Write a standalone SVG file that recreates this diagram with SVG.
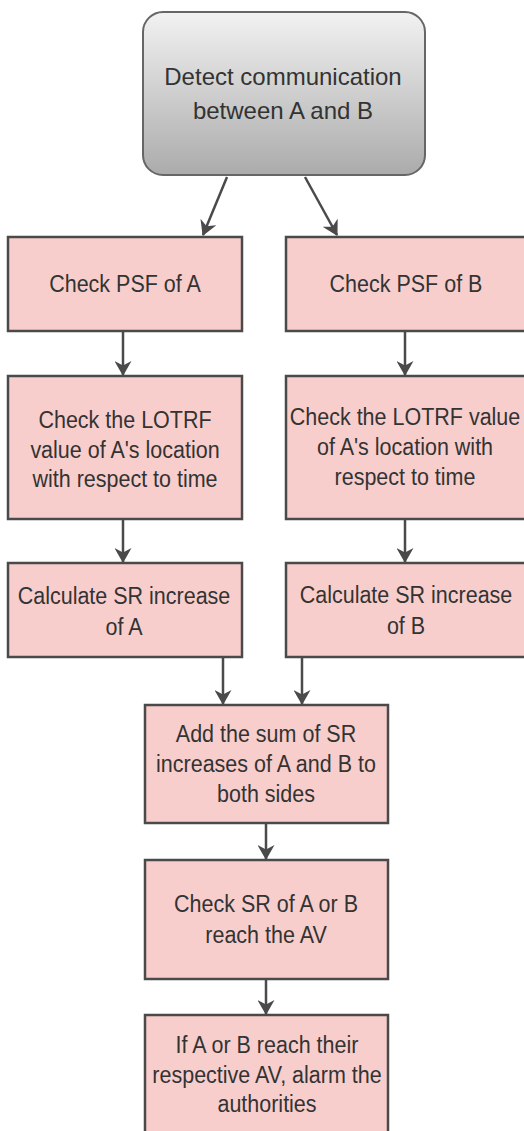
<svg xmlns="http://www.w3.org/2000/svg" width="524" height="1131" viewBox="0 0 524 1131">
<defs>
<linearGradient id="g" x1="0" y1="0" x2="0" y2="1">
<stop offset="0" stop-color="#f2f2f2"/>
<stop offset="1" stop-color="#ababab"/>
</linearGradient>
<marker id="ah" viewBox="0 0 15 17" markerWidth="15" markerHeight="17" refX="14" refY="8.5" orient="auto" markerUnits="userSpaceOnUse">
<path d="M0,0 L15,8.5 L0,17 L4.5,8.5 z" fill="#4a4a4a"/>
</marker>
<style>
.box{fill:#f8cecc;stroke:#4a4a4a;stroke-width:2.5}
.top{fill:url(#g);stroke:#666666;stroke-width:2}
.t{font-family:"Liberation Sans",Arial,Helvetica,sans-serif;font-size:21.5px;fill:#333333;text-anchor:middle}
.tt{font-size:24px}
.c{fill:none;stroke:#4a4a4a;stroke-width:2.5;marker-end:url(#ah)}
</style>
</defs>
<g id="connectors">
<line class="c" x1="227" y1="177" x2="203" y2="235"/>
<line class="c" x1="305" y1="177" x2="337" y2="235"/>
<line class="c" x1="123" y1="331" x2="123" y2="375"/>
<line class="c" x1="405" y1="331" x2="405" y2="375"/>
<line class="c" x1="123" y1="519" x2="123" y2="562"/>
<line class="c" x1="405" y1="519" x2="405" y2="562"/>
<line class="c" x1="223" y1="657" x2="223" y2="704"/>
<line class="c" x1="302" y1="657" x2="302" y2="704"/>
<line class="c" x1="266" y1="823" x2="266" y2="859"/>
<line class="c" x1="266" y1="979" x2="266" y2="1014"/>
</g>
<g id="detect">
<rect class="top" x="143" y="12" width="282" height="163" rx="20" ry="20"/>
<text class="t tt" x="283" y="85">Detect communication</text>
<text class="t tt" x="283" y="119">between A and B</text>
</g>
<g id="psfA">
<rect class="box" x="8" y="237" width="234" height="94"/>
<text class="t" transform="translate(125,292) scale(1,1.15)">Check PSF of A</text>
</g>
<g id="psfB">
<rect class="box" x="286" y="237" width="240" height="94"/>
<text class="t" transform="translate(406,292) scale(1,1.15)">Check PSF of B</text>
</g>
<g id="lotrfA">
<rect class="box" x="8" y="376" width="234" height="143"/>
<text class="t" transform="translate(125,428) scale(1,1.15)">Check the LOTRF</text>
<text class="t" transform="translate(125,458) scale(1,1.15)">value of A's location</text>
<text class="t" transform="translate(125,487) scale(1,1.15)">with respect to time</text>
</g>
<g id="lotrfB">
<rect class="box" x="286" y="376" width="240" height="143"/>
<text class="t" transform="translate(405,425) scale(1,1.15)">Check the LOTRF value</text>
<text class="t" transform="translate(405,455) scale(1,1.15)">of A's location with</text>
<text class="t" transform="translate(405,485) scale(1,1.15)">respect to time</text>
</g>
<g id="srA">
<rect class="box" x="8" y="563" width="234" height="94"/>
<text class="t" transform="translate(124,604) scale(1,1.15)">Calculate SR increase</text>
<text class="t" transform="translate(124,635) scale(1,1.15)">of A</text>
</g>
<g id="srB">
<rect class="box" x="286" y="563" width="240" height="94"/>
<text class="t" transform="translate(406,603) scale(1,1.15)">Calculate SR increase</text>
<text class="t" transform="translate(406,634) scale(1,1.15)">of B</text>
</g>
<g id="addSum">
<rect class="box" x="145" y="705" width="243" height="118"/>
<text class="t" transform="translate(266,742) scale(1,1.15)">Add the sum of SR</text>
<text class="t" transform="translate(266,772) scale(1,1.15)">increases of A and B to</text>
<text class="t" transform="translate(266,802) scale(1,1.15)">both sides</text>
</g>
<g id="checkSR">
<rect class="box" x="145" y="860" width="243" height="119"/>
<text class="t" transform="translate(266,912) scale(1,1.15)">Check SR of A or B</text>
<text class="t" transform="translate(266,943) scale(1,1.15)">reach the AV</text>
</g>
<g id="alarm">
<rect class="box" x="145" y="1015" width="243" height="125"/>
<text class="t" transform="translate(267,1053) scale(1,1.15)">If A or B reach their</text>
<text class="t" transform="translate(267,1083) scale(1,1.15)">respective AV, alarm the</text>
<text class="t" transform="translate(267,1112) scale(1,1.15)">authorities</text>
</g>
</svg>
